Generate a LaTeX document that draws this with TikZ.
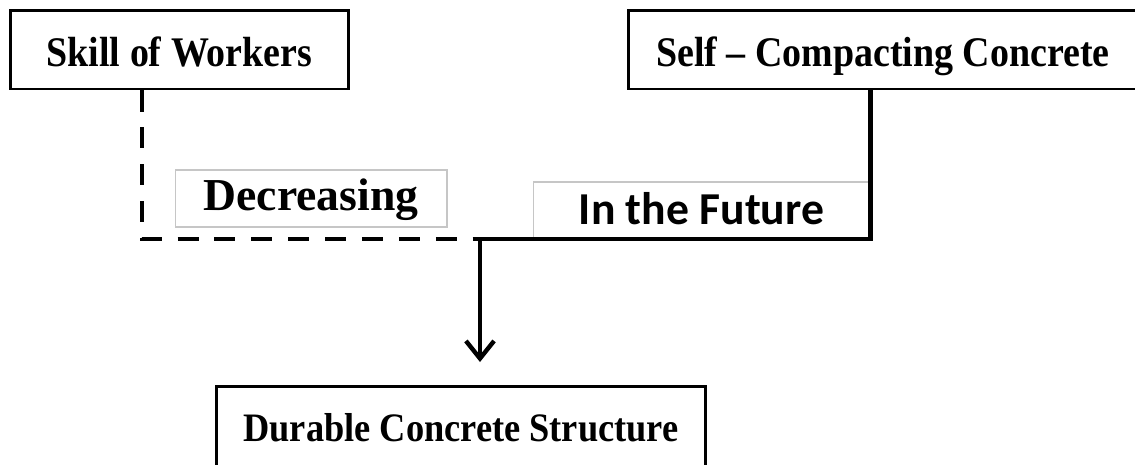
\documentclass[tikz,border=0pt]{standalone}
\usepackage{fontspec}
\setmainfont{Liberation Serif}
\newfontfamily\boxfont[FakeStretch=0.9, Ligatures=TeX]{Liberation Serif}
\newfontfamily\futfont{Carlito}
\usetikzlibrary{arrows.meta, positioning, calc}
\tikzset{
  box/.style={rectangle, draw=black, line width=1.7pt, fill=white, inner sep=0pt,
              minimum height=1.58cm, text height=23.5pt, text depth=4.5pt,
              font=\boxfont\bfseries\fontsize{24}{28}\selectfont},
  tag/.style={rectangle, draw=gray!45, line width=0.6pt, fill=white, inner sep=0pt,
              minimum height=1.14cm, text height=20pt},
  link/.style={line width=2.3pt},
  dlink/.style={link, dash pattern=on 12pt off 9pt},
  arc/.style={link, -{Straight Barb[length=10pt, width=16pt, line width=2.5pt]}}
}

\begin{document}
\begin{tikzpicture}[x=0.02cm, y=-0.02cm]
        \useasboundingbox (0,0) rectangle (1135,464);
        \node[box, minimum width=6.78cm] (skill) at (179.5,49.5) {Skill of Workers};
        \node[box, minimum width=10.2cm] (scc) at (883,49.5) {Self – Compacting Concrete};
        \node[box, minimum width=9.8cm, minimum height=1.68cm, text height=20pt,
          text depth=4.1pt, font=\boxfont\bfseries\fontsize{23}{27}\selectfont]
          (durable) at (461,428) {Durable Concrete Structure};
        \node[tag, minimum width=5.44cm, text depth=5.8pt,
          font=\bfseries\fontsize{26}{30}\selectfont]
          (decr) at (311,198.5) {Decreasing};
        \node[tag, minimum width=6.74cm, text depth=3.6pt,
          font=\futfont\bfseries\fontsize{26}{30}\selectfont]
          (future) at (701.5,210.5) {In the Future};
        \coordinate (join) at (480,239);
        \coordinate (tip) at (480,362);
        \draw[dlink] ($(skill.south west)+(133,0)$) |- (join);
        \draw[link] (scc.south -| future.east) |- (join);
        \draw[arc] (join) -- (tip);
      \end{tikzpicture}
\end{document}
